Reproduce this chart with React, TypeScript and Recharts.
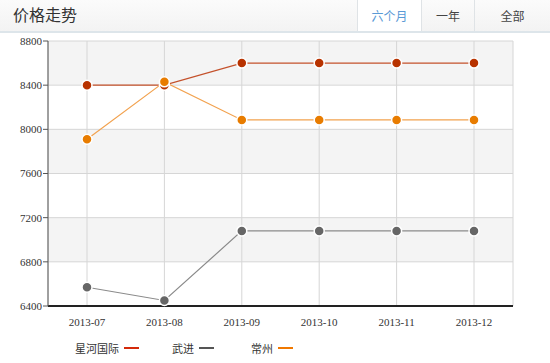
import React from 'react';
import { LineChart, Line, XAxis, YAxis, CartesianGrid } from 'recharts';

const months = ['2013-07', '2013-08', '2013-09', '2013-10', '2013-11', '2013-12'];
const xinghe = [8400, 8400, 8600, 8600, 8600, 8600];
const wujin = [6570, 6450, 7080, 7080, 7080, 7080];
const changzhou = [7910, 8430, 8085, 8085, 8085, 8085];
const yTicks = [6400, 6800, 7200, 7600, 8000, 8400, 8800];
const tabs = ['六个月', '一年', '全部'];

const series = [
  { key: 'xinghe', name: '星河国际', values: xinghe, dot: '#b83300', line: '#c4512b', legend: '#d42a0a' },
  { key: 'wujin', name: '武进', values: wujin, dot: '#666666', line: '#8a8a8a', legend: '#555555' },
  { key: 'changzhou', name: '常州', values: changzhou, dot: '#e87c00', line: '#f2a24f', legend: '#f07800' },
];

const data = months.map((m, i) => {
  const row: Record<string, string | number> = { month: m };
  series.forEach((s) => { row[s.key] = s.values[i]; });
  return row;
});

const cjk = '"Noto Sans CJK SC", "Noto Sans", sans-serif';
const serif = '"Liberation Serif", "DejaVu Serif", serif';

export default function App() {
  const tabLeft = [357, 421, 474];
  const tabRight = [421, 474, 550];
  return (
    <div style={{ position: 'absolute', left: 0, top: 0, width: 550, height: 363, background: '#fff', overflow: 'hidden' }}>
      <div style={{ position: 'absolute', left: 0, top: 0, width: 550, height: 31, background: 'linear-gradient(#fbfbfb, #f3f3f3)', borderBottom: '2px solid #dde5ea' }} />
      <div style={{ position: 'absolute', left: 13, top: 4, fontFamily: cjk, fontSize: 16, color: '#333', lineHeight: '20px' }}>价格走势</div>
      {tabs.map((t, i) => (
        <div key={t} style={{
          position: 'absolute', left: tabLeft[i], top: 0, width: tabRight[i] - tabLeft[i], height: 31,
          borderLeft: '1px solid #dfe3e6', background: i === 0 ? '#fff' : 'transparent',
          fontFamily: cjk, fontSize: 12, color: i === 0 ? '#5a9ad6' : '#444',
          display: 'flex', alignItems: 'center', justifyContent: 'center', boxSizing: 'border-box',
        }}>{t}</div>
      ))}
      <div style={{ position: 'absolute', left: 0, top: 0 }}>
        <LineChart width={550} height={363} data={data} margin={{ top: 41, right: 37, bottom: 27, left: 0 }}>
          <CartesianGrid stroke="#d6d6d6" horizontalFill={['#f4f4f4', '#ffffff']} />
          <XAxis dataKey="month" tickLine={false} axisLine={{ stroke: '#222', strokeWidth: 2 }} height={30}
            padding={{ left: 39, right: 39 }}
            tick={{ fontFamily: serif, fontSize: 11, fill: '#333' }} tickMargin={6} />
          <YAxis domain={[6400, 8800]} ticks={yTicks} width={48} tickSize={5}
            axisLine={{ stroke: '#555' }} tickLine={{ stroke: '#555' }}
            tick={{ fontFamily: serif, fontSize: 11, fill: '#333' }} tickMargin={1} />
          <YAxis yAxisId="r" orientation="right" width={0} tick={false} tickLine={false} axisLine={{ stroke: '#d6d6d6' }} />
          {series.map((s) => (
            <Line key={s.key} dataKey={s.key} name={s.name} stroke={s.line} strokeWidth={1.2}
              dot={{ r: 5, fill: s.dot, stroke: '#fff', strokeWidth: 1.5 }} activeDot={false}
              isAnimationActive={false} />
          ))}
        </LineChart>
      </div>
      {series.map((s, i) => {
        const lefts = [75, 172, 251];
        return (
          <div key={s.key} style={{ position: 'absolute', left: lefts[i], top: 340, display: 'flex', alignItems: 'center', fontFamily: cjk, fontSize: 11, color: '#333', lineHeight: '16px' }}>
            <span>{s.name}</span>
            <span style={{ display: 'inline-block', width: 15, height: 2, background: s.legend, marginLeft: 5 }} />
          </div>
        );
      })}
    </div>
  );
}
